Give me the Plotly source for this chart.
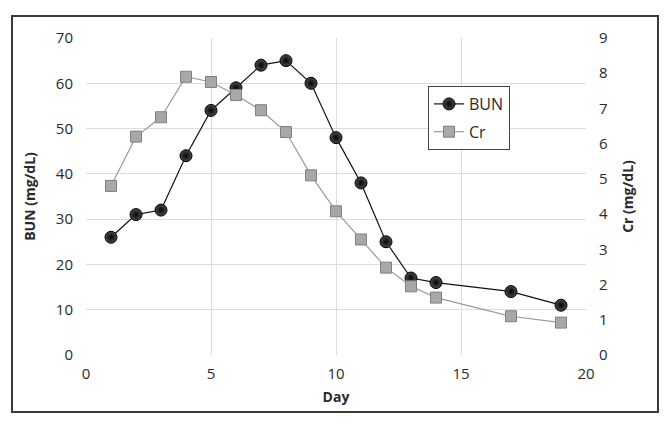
import plotly.graph_objects as go

days = [1, 2, 3, 4, 5, 6, 7, 8, 9, 10, 11, 12, 13, 14, 17, 19]
bun = [26, 31, 32, 44, 54, 59, 64, 65, 60, 48, 38, 25, 17, 16, 14, 11]
cr = [4.8, 6.2, 6.75, 7.9, 7.75, 7.38, 6.95, 6.33, 5.1, 4.08, 3.28, 2.48, 1.95, 1.63, 1.1, 0.92]

FONT = "Open Sans"
OFF = 8  # page body margin
W, H = 671 - 2 * OFF, 427 - 2 * OFF
L, R, T, B = 86 - OFF, 671 - 586 - OFF, 38 - OFF, 427 - 355 - OFF
pw, ph = W - L - R, H - T - B

fig = go.Figure()
fig.add_trace(go.Scatter(
    x=days, y=bun, name="BUN", mode="lines+markers", legendgroup="a",
    line=dict(color="#111111", width=1.2),
    marker=dict(symbol="circle", size=12, color="#4a4a4a",
                gradient=dict(type="radial", color="#050505"),
                line=dict(color="#000000", width=1)),
))
fig.add_trace(go.Scatter(
    x=days, y=cr, name="Cr", mode="lines+markers", yaxis="y2", legendgroup="b",
    line=dict(color="#9a9a9a", width=1.2),
    marker=dict(symbol="square", size=11, color="#a8a8a8",
                line=dict(color="#808080", width=1)),
))

grid = "#dcdcdc"
fig.update_layout(
    width=W, height=H,
    margin=dict(l=L, r=R, t=T, b=B, autoexpand=False),
    paper_bgcolor="white", plot_bgcolor="white",
    font=dict(family=FONT, size=15, color="#2a2a2a"),
    showlegend=True,
    legend=dict(
        x=(428 - 86) / pw, y=(355 - 86) / ph, xanchor="left", yanchor="top",
        bordercolor="#444444", borderwidth=1, bgcolor="white",
        font=dict(family=FONT, size=16, color="#2a2a2a"),
        tracegroupgap=4, itemwidth=30,
    ),
    xaxis=dict(
        range=[0, 20], tickvals=[0, 5, 10, 15, 20],
        showgrid=True, gridcolor=grid, gridwidth=1, zeroline=False,
        showline=False, ticks="", automargin=False, ticklabelstandoff=8,
        title=dict(text="<b>Day</b>", font=dict(family=FONT, size=14, color="#2a2a2a"), standoff=10),
    ),
    yaxis=dict(
        range=[0, 70], tickvals=[0, 10, 20, 30, 40, 50, 60, 70],
        showgrid=True, gridcolor=grid, gridwidth=1, zeroline=False,
        showline=False, ticks="", ticklabelstandoff=12, automargin=False,
        title=dict(text="<b>BUN (mg/dL)</b>", font=dict(family=FONT, size=14, color="#2a2a2a"), standoff=16),
    ),
    yaxis2=dict(
        range=[0, 9], tickvals=list(range(10)), overlaying="y", side="right",
        showgrid=False, zeroline=False, showline=False, ticks="", ticklabelstandoff=12,
        automargin=False,
        title=dict(text="<b>Cr (mg/dL)</b>", font=dict(family=FONT, size=14, color="#2a2a2a"), standoff=16),
    ),
    shapes=[dict(
        type="rect", xref="paper", yref="paper",
        x0=(12 - 86) / pw, x1=(658 - 86) / pw,
        y0=(355 - 412) / ph, y1=(355 - 16) / ph,
        line=dict(color="#3a3a3a", width=2), fillcolor="rgba(0,0,0,0)", layer="above",
    )],
)

fig.write_html("out.html")
